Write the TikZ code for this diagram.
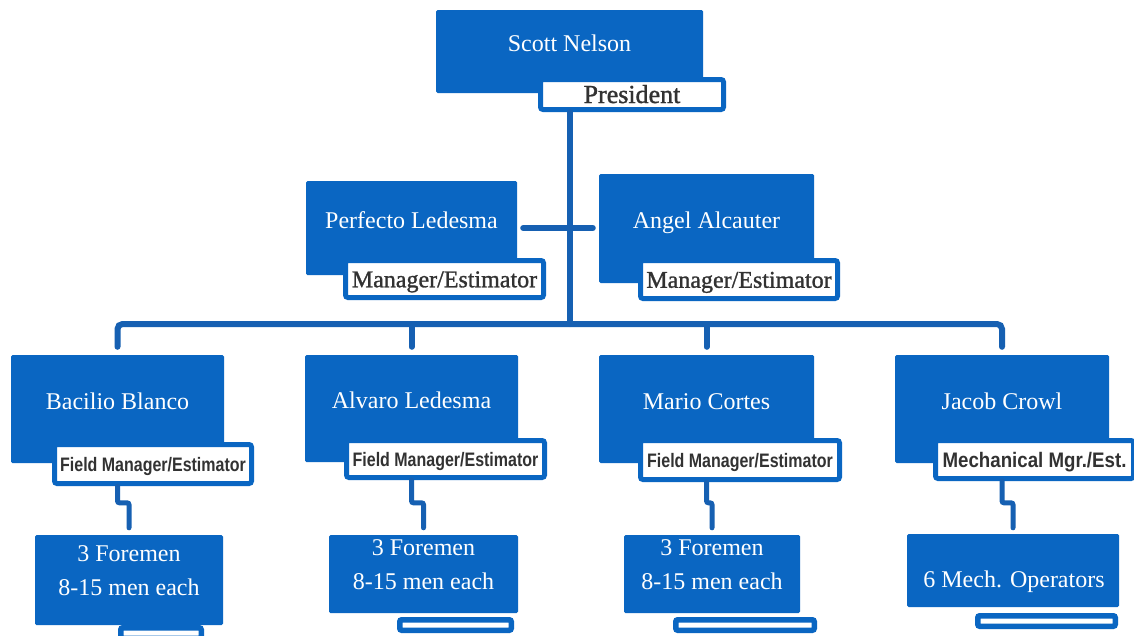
\documentclass[tikz,border=0pt]{standalone}
\usepackage{fontspec}
\usepackage{graphicx}
\setmainfont{Liberation Serif}
\newfontfamily\lblserif[FakeBold=1.2]{Liberation Serif}
\newfontfamily\lblsans{Liberation Sans}
\definecolor{boxblue}{RGB}{10,102,194}
\definecolor{lineblue}{RGB}{22,96,178}
\definecolor{lbltext}{RGB}{50,50,50}
\begin{document}
\begin{tikzpicture}[x=1pt,y=-1pt,
  box/.style={fill=boxblue, draw=none, rounded corners=1.5pt, inner sep=0pt,
    text=white, font=\fontsize{24}{28}\selectfont, text height=0pt, text depth=0pt},
  lblbox/.style={fill=white, draw=boxblue, line width=5pt, rounded corners=2.5pt,
    inner sep=0pt, text=lbltext},
  serlbl/.style={lblbox, font=\lblserif\fontsize{24}{28}\selectfont, text height=16.5pt, text depth=0pt},
  sanlbl/.style={lblbox, font=\lblsans\bfseries\fontsize{19.5}{22}\selectfont, text height=14pt, text depth=0pt},
  bar/.style={fill=white, draw=boxblue, line width=5.5pt, rounded corners=2pt,
    inner sep=0pt, minimum height=10.5pt},
  crew/.style={text=white, font=\fontsize{24}{34}\selectfont, align=center, inner sep=0pt},
  bus/.style={draw=lineblue, line width=6pt, line cap=round, rounded corners=5pt},
  conn/.style={draw=lineblue, line width=5pt, line cap=round, rounded corners=2pt}]
\useasboundingbox (0,0) rectangle (1134,635);
\fill[white] (0,0) rectangle (1134,635);

% top level
\node[box, minimum width=267pt, minimum height=83pt] (scott) at (569.5,51.5) {Scott Nelson};
\node[serlbl, font=\lblserif\fontsize{26}{28}\selectfont, text height=17pt, minimum width=183pt, minimum height=30pt] (pres) at (632,94.5) {President};

% managers
\node[box, minimum width=211pt, minimum height=94pt] (per) at (411.5,228) {Perfecto Ledesma};
\node[serlbl, minimum width=198pt, minimum height=37pt] (perlbl) at (444.5,279) {Manager/Estimator};
\node[box, minimum width=215pt, minimum height=109pt] (ang) at (706.5,228.5) {Angel Alcauter};
\node[serlbl, minimum width=197pt, minimum height=38pt] (anglbl) at (739,279.5) {Manager/Estimator};

% field managers
\node[box, minimum width=213pt, minimum height=108pt] (bac) at (117.5,409) {Bacilio Blanco};
\node[sanlbl, minimum width=197pt, minimum height=39pt] (baclbl) at (153,464) {\scalebox{0.82}[1]{Field Manager/Estimator}};
\node[box, minimum width=213pt, minimum height=107pt] (alv) at (411.5,408.5) {Alvaro Ledesma};
\node[sanlbl, minimum width=198pt, minimum height=37pt] (alvlbl) at (445.5,459) {\scalebox{0.82}[1]{Field Manager/Estimator}};
\node[box, minimum width=215pt, minimum height=108pt] (mar) at (706.5,409) {Mario Cortes};
\node[sanlbl, minimum width=199pt, minimum height=39pt] (marlbl) at (740,460) {\scalebox{0.82}[1]{Field Manager/Estimator}};
\node[box, minimum width=214pt, minimum height=108pt] (jac) at (1002,409) {Jacob Crowl};
\node[sanlbl, font=\lblsans\bfseries\fontsize{21}{24}\selectfont, text height=15pt, minimum width=198pt, minimum height=38pt] (jaclbl) at (1034.5,459.5) {\scalebox{0.89}[1]{Mechanical Mgr./Est.}};

% crews
\node[box, minimum width=188pt, minimum height=90pt] (bacF) at (129,580) {};
\node[crew] (bacFT) at (129,570.5) {3 Foremen\\8-15 men each};
\node[box, minimum width=189pt, minimum height=78pt] (alvF) at (423.5,574) {};
\node[crew] (alvFT) at (423.5,565) {3 Foremen\\8-15 men each};
\node[box, minimum width=176pt, minimum height=78pt] (marF) at (712,574) {};
\node[crew] (marFT) at (712,565) {3 Foremen\\8-15 men each};
\node[box, minimum width=212pt, minimum height=73pt] (jacF) at (1013,570.5) {};
\node[crew, anchor=base] (jacFT) at (1014,587) {6 Mech. Operators};

% partial boxes at the bottom edge
\node[bar, minimum width=80.5pt] (bacB) at (161,633) {};
\node[bar, minimum width=111.5pt] (alvB) at (455.5,625) {};
\node[bar, minimum width=138.5pt] (marB) at (745,625) {};
\node[bar, minimum width=137.5pt] (jacB) at (1046.5,621) {};

% connectors
\coordinate (busc) at (570,324);
\draw[bus] (pres.south -| busc) -- (busc);
\draw[bus] ([xshift=6pt]per.east) -- ([xshift=-6pt]per.east -| ang.west);
\draw[bus] ([yshift=8pt]bac.north) |- (busc) -| ([yshift=8pt]jac.north);
\draw[bus] ([yshift=8pt]alv.north) -- (alv.north |- busc);
\draw[bus] ([yshift=8pt]mar.north) -- (mar.north |- busc);

\draw[conn] (baclbl.south -| bac.center) |- ([yshift=32pt]bacF.north) -- ([yshift=7pt]bacF.north);
\draw[conn] (alvlbl.south -| alv.center) |- ([yshift=32pt]alvF.north) -- ([yshift=7pt]alvF.north);
\draw[conn] (marlbl.south -| mar.center) |- ([yshift=32pt]marF.north) -- ([yshift=7pt]marF.north);
\draw[conn] (jaclbl.south -| jac.center) |- ([yshift=31pt]jacF.north) -- ([yshift=6pt]jacF.north);
\end{tikzpicture}
\end{document}
